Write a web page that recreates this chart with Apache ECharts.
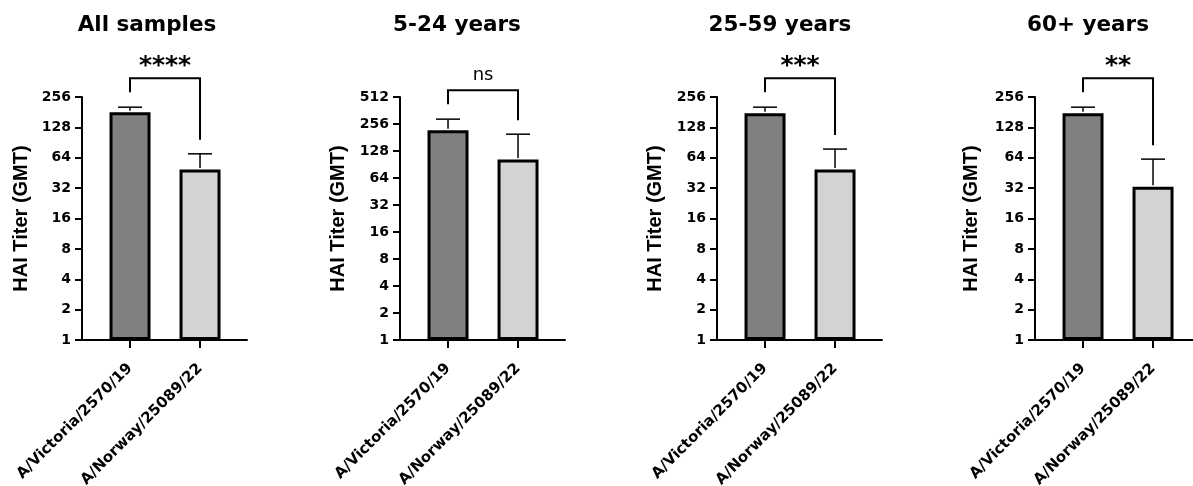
<!DOCTYPE html>
<html>
<head>
<meta charset="utf-8">
<script src="https://cdn.jsdelivr.net/npm/echarts@6/dist/echarts.min.js"></script>
<style>
html,body{margin:0;padding:0;background:#fff;}
#chart{width:1193px;height:486px;}
</style>
</head>
<body>
<div id="chart"></div>
<script>
const panelTitles = ['All samples', '5-24 years', '25-59 years', '60+ years'];
const strains = ['A/Victoria/2570/19', 'A/Norway/25089/22'];
const gmtVictoria = [181, 218, 177, 177];
const gmtNorway = [49, 103, 49, 33];
const errTopVictoria = [203, 290, 203, 203];
const errTopNorway = [70, 197, 78, 62];
const significance = ['****', 'ns', '***', '**'];
const yMax = [256, 512, 256, 256];

const WIDE = '"DejaVu Sans", Verdana, sans-serif';
const NARROW = '"Liberation Sans", Arial, sans-serif';
const gridLeft = [82, 400, 717, 1035];
const gridWidth = 165;
const titleX = [142, 452, 775, 1083];
const nameGaps = [51, 52, 52, 54];

const chart = echarts.init(document.getElementById('chart'), null, {renderer: 'canvas'});

const option = {
  backgroundColor: '#fff',
  animation: false,
  title: panelTitles.map((t, i) => ({
    text: t, left: titleX[i], top: 9, textAlign: 'center',
    textStyle: {fontFamily: WIDE, fontWeight: 'bold', fontSize: 21.5, color: '#000'}
  })),
  grid: panelTitles.map((t, i) => ({
    left: gridLeft[i], width: gridWidth, top: 97, bottom: 146,
    outerBoundsMode: 'none', containLabel: false
  })),
  xAxis: panelTitles.map((t, i) => ({
    type: 'value', gridIndex: i, min: -0.686, max: 1.671,
    splitLine: {show: false},
    axisLine: {show: true, onZero: false, lineStyle: {color: '#000', width: 2}},
    axisTick: {show: true, customValues: [0, 1], length: 8, lineStyle: {color: '#000', width: 2}},
    axisLabel: {
      show: true, customValues: [0, 1], rotate: 45, margin: 26,
      formatter: v => strains[Math.round(v)] || '',
      fontFamily: WIDE, fontWeight: 'bold', fontSize: 15, color: '#000'
    }
  })),
  yAxis: panelTitles.map((t, i) => ({
    type: 'log', logBase: 2, gridIndex: i, min: 1, max: yMax[i], interval: 1,
    name: 'HAI Titer (GMT)', nameLocation: 'middle', nameGap: nameGaps[i],
    nameTextStyle: {fontFamily: NARROW, fontWeight: 'bold', fontSize: 20, color: '#000'},
    splitLine: {show: false},
    axisLine: {show: true, onZero: false, lineStyle: {color: '#000', width: 2}},
    axisTick: {show: true, length: 7, lineStyle: {color: '#000', width: 2}},
    axisLabel: {margin: 11, fontFamily: WIDE, fontWeight: 'bold', fontSize: 14, color: '#000'}
  })),
  series: []
};

panelTitles.forEach((t, i) => {
  option.series.push({
    type: 'bar', xAxisIndex: i, yAxisIndex: i, barWidth: 41,
    data: [
      {value: [0, gmtVictoria[i]], itemStyle: {color: '#808080'}},
      {value: [1, gmtNorway[i]], itemStyle: {color: '#d3d3d3'}}
    ],
    itemStyle: {borderColor: '#000', borderWidth: 3},
    z: 2
  });
  option.series.push({
    type: 'custom', xAxisIndex: i, yAxisIndex: i, z: 3,
    data: [[0, gmtVictoria[i], errTopVictoria[i]], [1, gmtNorway[i], errTopNorway[i]]],
    renderItem: (params, api) => {
      const x = api.value(0);
      const base = api.coord([x, api.value(1)]);
      const top = api.coord([x, api.value(2)]);
      const hw = 12;
      return {
        type: 'group',
        children: [
          {type: 'line', shape: {x1: base[0], y1: base[1] - 1.5, x2: top[0], y2: top[1]}, style: {stroke: '#000', lineWidth: 1.5}},
          {type: 'line', shape: {x1: top[0] - hw, y1: top[1], x2: top[0] + hw, y2: top[1]}, style: {stroke: '#000', lineWidth: 1.5}}
        ]
      };
    }
  });
  option.series.push({
    type: 'custom', xAxisIndex: i, yAxisIndex: i, z: 3, clip: false,
    data: [[0, 1, errTopVictoria[i], errTopNorway[i]]],
    renderItem: (params, api) => {
      const p0 = api.coord([api.value(0), api.value(2)]);
      const p1 = api.coord([api.value(1), api.value(3)]);
      const legL = p0[1] - 15;
      const legR = p1[1] - 14;
      const by = Math.min(legL, legR) - 14;
      const isNs = significance[i] === 'ns';
      return {
        type: 'group',
        children: [
          {type: 'polyline', shape: {points: [[p0[0], legL], [p0[0], by], [p1[0], by], [p1[0], legR]]},
           style: {stroke: '#000', lineWidth: 2, fill: null}},
          {type: 'text', x: (p0[0] + p1[0]) / 2, y: isNs ? by - 15 : by - 12,
           style: {text: significance[i], textAlign: 'center', textVerticalAlign: 'middle',
                   fontFamily: WIDE, fontWeight: isNs ? 'normal' : 'bold', fontSize: isNs ? 18 : 25, fill: '#000'}}
        ]
      };
    }
  });
});

chart.setOption(option);
</script>
</body>
</html>
